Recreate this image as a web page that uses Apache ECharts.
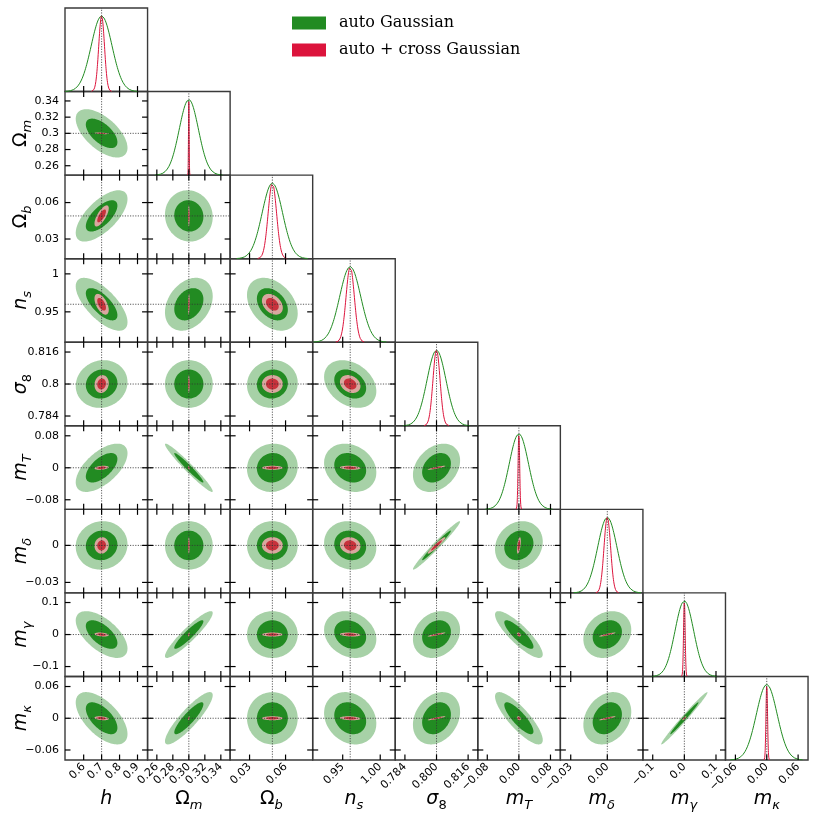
<!DOCTYPE html>
<html>
<head>
<meta charset="utf-8">
<script src="https://cdn.jsdelivr.net/npm/echarts@6/dist/echarts.min.js"></script>
<style>
html, body { margin: 0; padding: 0; background: #fff; }
#chart { width: 817px; height: 821px; }
</style>
</head>
<body>
<div id="chart"></div>
<script>
// parameters, in plot order: h, Om, Ob, ns, s8, mT, md, mg, mk
var fiducial   = [0.7, 0.3, 0.049, 0.96, 0.8, 0, 0, 0, 0];
var axisMin    = [0.496, 0.2484, 0.0138, 0.910, 0.7791, -0.104, -0.0385, -0.131, -0.079];
var axisMax    = [0.956, 0.3516, 0.0826, 1.020, 0.8209, 0.105, 0.0292, 0.130, 0.079];
var sigmaAuto  = [0.058, 0.012, 0.0085, 0.014, 0.0048, 0.0243, 0.0079, 0.0294, 0.0199];
var sigmaCross = [0.016, 0.0004, 0.0035, 0.0055, 0.0018, 0.002, 0.0027, 0.0025, 0.0015];

// correlation coefficients, lower triangle (row i against columns j < i)
var corrAuto = [
  [],
  [-0.6],
  [0.66, -0.05],
  [-0.68, 0.3, -0.35],
  [0.08, 0.0, 0.05, -0.3],
  [0.6, -0.97, 0.05, -0.2, 0.3],
  [0.05, 0.0, 0.0, -0.1, 0.98, 0.15],
  [-0.6, 0.92, 0.0, -0.2, 0.2, -0.85, 0.2],
  [-0.6, 0.88, 0.0, -0.2, 0.25, -0.83, 0.25, 0.987]
];
var corrCross = [
  [],
  [-0.5],
  [0.72, 0.0],
  [-0.55, 0.3, -0.35],
  [0.1, 0.0, 0.0, -0.25],
  [0.3, -0.5, 0.0, -0.2, 0.9],
  [0.05, 0.0, 0.0, -0.1, 0.95, 0.5],
  [-0.3, 0.5, 0.0, -0.2, 0.9, -0.3, 0.9],
  [-0.3, 0.5, 0.0, -0.2, 0.9, -0.3, 0.9, 0.8]
];

// tick values and labels
var ticks = [
  [0.6, 0.7, 0.8, 0.9],
  [0.26, 0.28, 0.30, 0.32, 0.34],
  [0.03, 0.06],
  [0.95, 1.00],
  [0.784, 0.800, 0.816],
  [-0.08, 0, 0.08],
  [-0.03, 0],
  [-0.1, 0, 0.1],
  [-0.06, 0, 0.06]
];
var xTickLabels = [
  ['0.6', '0.7', '0.8', '0.9'],
  ['0.26', '0.28', '0.30', '0.32', '0.34'],
  ['0.03', '0.06'],
  ['0.95', '1.00'],
  ['0.784', '0.800', '0.816'],
  ['\u22120.08', '0.00', '0.08'],
  ['\u22120.03', '0.00'],
  ['\u22120.1', '0.0', '0.1'],
  ['\u22120.06', '0.00', '0.06']
];
var yTickLabels = [
  [],
  ['0.26', '0.28', '0.3', '0.32', '0.34'],
  ['0.03', '0.06'],
  ['0.95', '1'],
  ['0.784', '0.8', '0.816'],
  ['\u22120.08', '0', '0.08'],
  ['\u22120.03', '0'],
  ['\u22120.1', '0', '0.1'],
  ['\u22120.06', '0', '0.06']
];
var axisNames = ['{v|h}', '{u|\u03a9}{s|m}', '{u|\u03a9}{s|b}', '{v|n}{s|s}', '{v|\u03c3}{r|8}',
                 '{v|m}{s|T}', '{v|m}{s|\u03b4}', '{v|m}{s|\u03b3}', '{v|m}{s|\u03ba}'];

var GREEN = '#228b22', GREEN_LIGHT = '#a7d1a7', RED = '#dc143c', RED_DARK = '#c8323c', RED_LIGHT = '#d9a79f';
var N = 9, left0 = 65, top0 = 8, cellW = 82.56, cellH = 83.56;
var R1 = 1.517, R2 = 2.486; // 68% / 95% 2D contour radii
var PEAK_MAX = 1.106;
var TICK_LEN = 5.5;

var nameStyle = {
  fontFamily: 'DejaVu Sans', fontSize: 19, color: '#000',
  rich: {
    v: { fontFamily: 'DejaVu Sans', fontSize: 19, fontStyle: 'italic', color: '#000', lineHeight: 26, verticalAlign: 'middle' },
    u: { fontFamily: 'DejaVu Sans', fontSize: 19, color: '#000', lineHeight: 26, verticalAlign: 'middle' },
    s: { fontFamily: 'DejaVu Sans', fontSize: 13, fontStyle: 'italic', color: '#000', lineHeight: 13, verticalAlign: 'bottom' },
    r: { fontFamily: 'DejaVu Sans', fontSize: 13, color: '#000', lineHeight: 13, verticalAlign: 'bottom' }
  }
};

function labelFn(vals, labs) {
  return function (v) {
    for (var k = 0; k < vals.length; k++) {
      if (Math.abs(vals[k] - v) < 1e-9) return labs[k];
    }
    return '';
  };
}

function makeAxis(p, gi, pos, showLabel, isX) {
  var labs = isX ? xTickLabels[p] : yTickLabels[p];
  return {
    gridIndex: gi, type: 'value', position: pos,
    min: axisMin[p], max: axisMax[p],
    axisLine: { show: false, onZero: false },
    splitLine: { show: false },
    axisTick: { show: false },
    axisLabel: {
      show: showLabel, customValues: ticks[p], rotate: isX ? 45 : 0, margin: isX ? 5 : 6,
      fontSize: 11, fontFamily: 'DejaVu Sans', color: '#000', formatter: labelFn(ticks[p], labs)
    },
    name: showLabel ? axisNames[p] : '',
    nameLocation: 'middle', nameGap: isX ? 26 : 31, nameRotate: isX ? 0 : 90,
    nameMoveOverlap: false,
    nameTextStyle: nameStyle
  };
}

// inward tick marks on chosen sides, placed through the axis scales
function tickMarks(api, px, py, yLo, yHi, sides) {
  var out = [], st = { stroke: '#000', lineWidth: 1.2 };
  ticks[px].forEach(function (t) {
    if (sides.bottom) {
      var b = api.coord([t, yLo]);
      out.push({ type: 'line', shape: { x1: b[0], y1: b[1], x2: b[0], y2: b[1] - TICK_LEN }, style: st });
    }
    if (sides.top) {
      var a = api.coord([t, yHi]);
      out.push({ type: 'line', shape: { x1: a[0], y1: a[1], x2: a[0], y2: a[1] + TICK_LEN }, style: st });
    }
  });
  if (py >= 0) {
    ticks[py].forEach(function (t) {
      var l = api.coord([axisMin[px], t]), r = api.coord([axisMax[px], t]);
      out.push({ type: 'line', shape: { x1: l[0], y1: l[1], x2: l[0] + TICK_LEN, y2: l[1] }, style: st });
      out.push({ type: 'line', shape: { x1: r[0], y1: r[1], x2: r[0] - TICK_LEN, y2: r[1] }, style: st });
    });
  }
  return out;
}

function ellipsePoints(api, px, py, sx, sy, rho, r) {
  var pts = [], q = Math.sqrt(1 - rho * rho);
  for (var k = 0; k < 120; k++) {
    var t = 2 * Math.PI * k / 120, c = Math.cos(t) * r, s = Math.sin(t) * r;
    pts.push(api.coord([fiducial[px] + sx * c, fiducial[py] + sy * (rho * c + q * s)]));
  }
  return pts;
}

function makeRender(px, py) {
  return function (params, api) {
    var rA = corrAuto[py][px], rC = corrCross[py][px];
    var sets = [
      [sigmaAuto, rA, R2, GREEN_LIGHT], [sigmaAuto, rA, R1, GREEN],
      [sigmaCross, rC, R2, RED_LIGHT], [sigmaCross, rC, R1, RED_DARK]
    ];
    var children = sets.map(function (L) {
      return {
        type: 'polygon',
        shape: { points: ellipsePoints(api, px, py, L[0][px], L[0][py], L[1], L[2]) },
        style: { fill: L[3] }
      };
    });
    var a = api.coord([fiducial[px], axisMin[py]]), b = api.coord([fiducial[px], axisMax[py]]);
    var c = api.coord([axisMin[px], fiducial[py]]), d = api.coord([axisMax[px], fiducial[py]]);
    var dash = { stroke: '#333', lineWidth: 0.8, lineDash: [1.2, 1.4] };
    children.push({ type: 'line', shape: { x1: a[0], y1: a[1], x2: b[0], y2: b[1] }, style: dash });
    children.push({ type: 'line', shape: { x1: c[0], y1: c[1], x2: d[0], y2: d[1] }, style: dash });
    children = children.concat(tickMarks(api, px, py, axisMin[py], axisMax[py], { bottom: true, top: true }));
    return { type: 'group', children: children };
  };
}

function makeDiagRender(p) {
  return function (params, api) {
    return { type: 'group', children: tickMarks(api, p, -1, 0, PEAK_MAX, { bottom: true, top: false }) };
  };
}

function gaussCurve(p, sig) {
  var pts = [];
  for (var k = 0; k <= 240; k++) {
    var z = -3.5 + 7 * k / 240;
    pts.push([fiducial[p] + sig * z, Math.exp(-0.5 * z * z)]);
  }
  return pts;
}

var grids = [], xAxes = [], yAxes = [], series = [];

for (var i = 0; i < N; i++) {
  for (var j = 0; j <= i; j++) {
    var gi = grids.length;
    var diag = (i === j);
    grids.push({
      left: left0 + j * cellW, top: top0 + i * cellH, width: cellW, height: cellH,
      show: true, borderColor: '#3a3a3a', borderWidth: 1.4, backgroundColor: 'transparent'
    });
    var xi = xAxes.length;
    xAxes.push(makeAxis(j, gi, 'bottom', i === N - 1, true));
    var yi = yAxes.length;
    if (diag) {
      yAxes.push({ gridIndex: gi, type: 'value', min: 0, max: PEAK_MAX, show: false });
      series.push({
        type: 'line', name: 'auto Gaussian', xAxisIndex: xi, yAxisIndex: yi,
        data: gaussCurve(j, sigmaAuto[j]), showSymbol: false, symbol: 'none',
        lineStyle: { color: GREEN, width: 1 }, itemStyle: { color: GREEN }, z: 3
      });
      series.push({
        type: 'line', name: 'auto + cross Gaussian', xAxisIndex: xi, yAxisIndex: yi,
        data: gaussCurve(j, sigmaCross[j]), showSymbol: false, symbol: 'none',
        lineStyle: { color: RED, width: 1 }, itemStyle: { color: RED }, z: 4
      });
      series.push({
        type: 'line', xAxisIndex: xi, yAxisIndex: yi, silent: true,
        data: [[fiducial[j], 0], [fiducial[j], PEAK_MAX]], showSymbol: false, symbol: 'none',
        lineStyle: { color: '#333', width: 0.8, type: [1.2, 1.4] }, z: 5
      });
      series.push({
        type: 'custom', xAxisIndex: xi, yAxisIndex: yi, silent: true,
        data: [[fiducial[j], 0]], renderItem: makeDiagRender(j), z: 6
      });
    } else {
      yAxes.push(makeAxis(i, gi, 'left', j === 0, false));
      series.push({
        type: 'custom', xAxisIndex: xi, yAxisIndex: yi, clip: false, silent: true,
        data: [[fiducial[j], fiducial[i]]],
        renderItem: makeRender(j, i), z: 2
      });
    }
  }
}

var chart = echarts.init(document.getElementById('chart'), null, { renderer: 'canvas' });
chart.setOption({
  animation: false,
  backgroundColor: '#fff',
  legend: {
    data: [{ name: 'auto Gaussian', icon: 'rect' }, { name: 'auto + cross Gaussian', icon: 'rect' }],
    orient: 'vertical', left: 292, top: 15, padding: 0, itemWidth: 34, itemHeight: 13, itemGap: 11,
    selectedMode: false,
    textStyle: { fontFamily: 'DejaVu Serif', fontSize: 16, color: '#000', padding: [0, 0, 0, 8] }
  },
  grid: grids,
  xAxis: xAxes,
  yAxis: yAxes,
  series: series
});
</script>
</body>
</html>
